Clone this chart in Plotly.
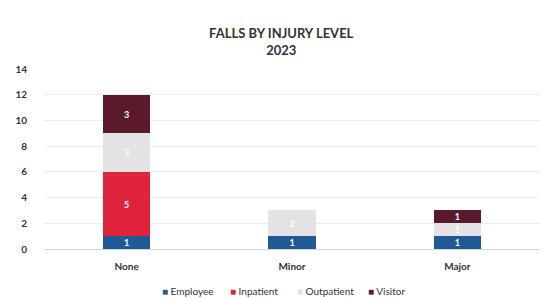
import plotly.graph_objects as go

categories = ["None", "Minor", "Major"]
employee = [1, 1, 1]
inpatient = [5, 0, 0]
outpatient = [3, 2, 1]
visitor = [3, 0, 1]

series = [
    ("Employee", employee, "#1d5a96"),
    ("Inpatient", inpatient, "#e0233c"),
    ("Outpatient", outpatient, "#e4e2e4"),
    ("Visitor", visitor, "#5b1a2c"),
]

W, H = 544, 299
L, R, T, B = 44, 4, 69, 50

fig = go.Figure()
for name, vals, color in series:
    fig.add_trace(go.Bar(
        x=categories, y=vals, name=name,
        marker=dict(color=color, line=dict(width=0)),
        text=[str(v) if v else "" for v in vals],
        textposition="inside", insidetextanchor="middle", textangle=0,
        textfont=dict(color="white", size=9, family="Lato", weight="bold"),
        width=0.285, showlegend=False,
    ))

# legend drawn as text annotations (square marker + label)
legend_x = [160, 228, 295, 366]
for (name, vals, color), px in zip(series, legend_x):
    fig.add_annotation(
        text=f"<span style='color:{color}'>■</span> {name}",
        xref="paper", yref="paper",
        x=(px - L) / (W - L - R), y=-(291 - (H - B)) / (H - T - B),
        xanchor="left", yanchor="middle", showarrow=False,
        font=dict(size=10, color="#333333", family="Lato"),
    )

fig.update_layout(
    barmode="stack",
    width=W, height=H,
    margin=dict(l=L, r=R, t=T, b=B, autoexpand=False),
    paper_bgcolor="white", plot_bgcolor="white",
    font=dict(family="Lato", color="#333333"),
    showlegend=False,
    title=dict(text="<b>FALLS BY INJURY LEVEL<br>2023</b>", xref="container", x=0.517,
               xanchor="center", yref="container", y=1 - 38 / H, yanchor="middle",
               font=dict(size=13, color="#333333")),
    xaxis=dict(showgrid=False, showline=True, linecolor="#d4d4d4",
               tickfont=dict(size=10, color="#333333", weight="bold"), ticks="",
               ticklabelstandoff=8),
    yaxis=dict(range=[0, 14], dtick=2, showgrid=True, gridcolor="#ececec",
               zeroline=False, tickfont=dict(size=10, color="#333333", weight="bold"),
               ticks="", ticklabelstandoff=16),
    uniformtext=dict(minsize=8, mode="show"),
)

fig.write_html("out.html", config={"displayModeBar": False},
               post_script="document.body.style.margin='0';document.body.style.overflow='hidden';")
